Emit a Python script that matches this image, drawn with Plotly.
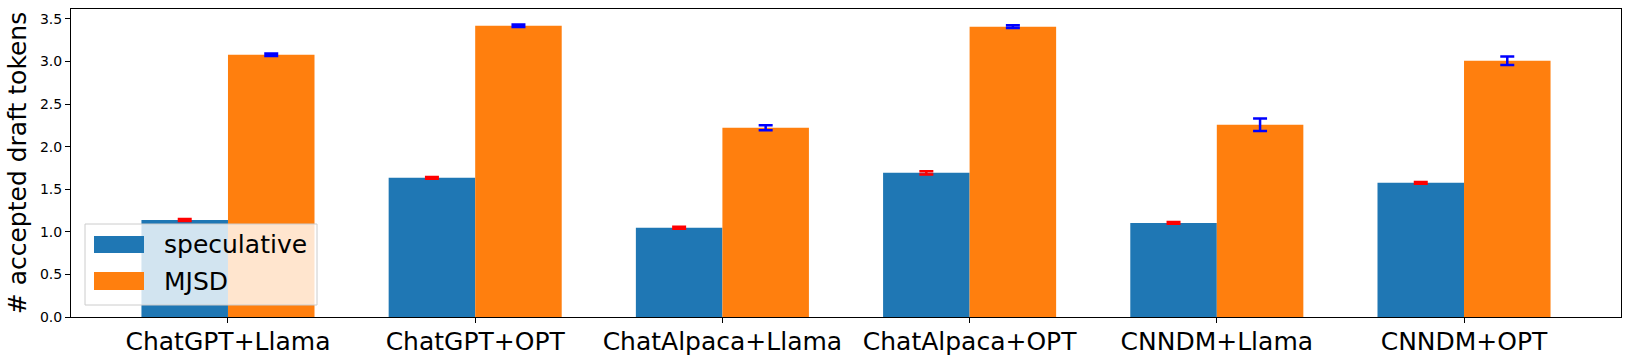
import plotly.graph_objects as go

categories = ["ChatGPT+Llama", "ChatGPT+OPT", "ChatAlpaca+Llama",
              "ChatAlpaca+OPT", "CNNDM+Llama", "CNNDM+OPT"]
speculative = [1.14, 1.634, 1.047, 1.693, 1.105, 1.576]
speculative_err = [0.012, 0.01, 0.012, 0.02, 0.01, 0.01]
mjsd = [3.08, 3.42, 2.222, 3.41, 2.257, 3.01]
mjsd_err = [0.015, 0.015, 0.03, 0.015, 0.074, 0.05]
series_names = ["speculative", "MJSD"]
yticks = [0.0, 0.5, 1.0, 1.5, 2.0, 2.5, 3.0, 3.5]

BLUE = "#1f77b4"
ORANGE = "#ff7f0e"
FONT = "DejaVu Sans"

fig = go.Figure()
fig.add_trace(go.Bar(
    x=categories, y=speculative, name=series_names[0], marker_color=BLUE,
    marker_line_width=0,
    error_y=dict(type="data", array=speculative_err, color="red",
                 thickness=2.5, width=7),
))
fig.add_trace(go.Bar(
    x=categories, y=mjsd, name=series_names[1], marker_color=ORANGE,
    marker_line_width=0,
    error_y=dict(type="data", array=mjsd_err, color="blue",
                 thickness=2.5, width=7),
))

W, H = 1631, 361
L, R, T, B = 71, 10, 9, 44
pw = W - L - R
ph = H - T - B


def px(x):
    return (x - L) / pw


def py(y):
    return (H - B - y) / ph


shapes = [
    dict(type="rect", xref="paper", yref="paper",
         x0=px(85), x1=px(317), y0=py(305), y1=py(224),
         fillcolor="rgba(255,255,255,0.8)",
         line=dict(color="rgba(204,204,204,1)", width=1), layer="above"),
    dict(type="rect", xref="paper", yref="paper",
         x0=px(94), x1=px(144), y0=py(253), y1=py(236),
         fillcolor=BLUE, line=dict(width=0), layer="above"),
    dict(type="rect", xref="paper", yref="paper",
         x0=px(94), x1=px(144), y0=py(290), y1=py(272),
         fillcolor=ORANGE, line=dict(width=0), layer="above"),
]
annotations = [
    dict(xref="paper", yref="paper", x=px(162), y=py(244), text=series_names[0],
         showarrow=False, xanchor="left", yanchor="middle",
         font=dict(family=FONT, size=25, color="black")),
    dict(xref="paper", yref="paper", x=px(162), y=py(281), text=series_names[1],
         showarrow=False, xanchor="left", yanchor="middle",
         font=dict(family=FONT, size=25, color="black")),
]

fig.update_layout(
    width=W, height=H,
    margin=dict(l=L, r=R, t=T, b=B, autoexpand=False),
    paper_bgcolor="white", plot_bgcolor="white",
    barmode="group", bargap=0.3, bargroupgap=0,
    showlegend=False,
    font=dict(family=FONT, color="black"),
    shapes=shapes, annotations=annotations,
    xaxis=dict(
        range=[-0.635, 5.635], showgrid=False, zeroline=False,
        showline=True, linecolor="black", linewidth=1, mirror=True,
        ticks="outside", ticklen=5, tickcolor="black",
        ticklabelstandoff=-3,
        tickfont=dict(family=FONT, size=25, color="black"),
    ),
    yaxis=dict(
        range=[0, 3.617], showgrid=False, zeroline=False,
        showline=True, linecolor="black", linewidth=1, mirror=True,
        ticks="outside", ticklen=5, tickcolor="black",
        tickvals=yticks, ticktext=[f"{v:.1f}" for v in yticks],
        tickfont=dict(family=FONT, size=14, color="black"),
        title=dict(text="# accepted draft tokens", standoff=6,
                   font=dict(family=FONT, size=25, color="black")),
    ),
)

fig.write_html(
    "out.html",
    config={"displayModeBar": False},
    post_script="document.body.style.margin='0';document.body.style.overflow='hidden';",
)
